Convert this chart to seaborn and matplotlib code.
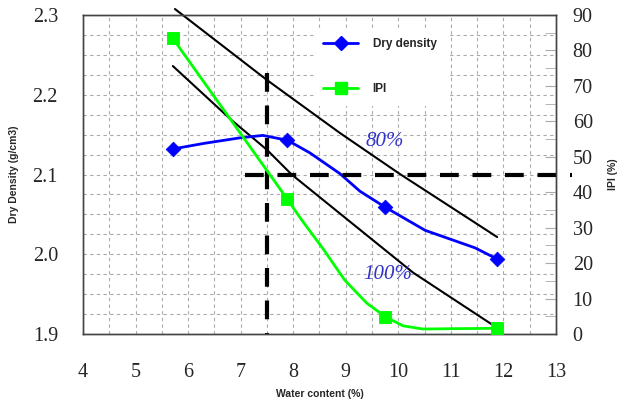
import matplotlib
matplotlib.use('Agg')
import matplotlib.pyplot as plt
import seaborn as sns
from matplotlib.lines import Line2D
from matplotlib.ticker import MultipleLocator, FormatStrFormatter

# measured points
water = [5.71, 7.89, 9.75, 11.88]
dry_density = [2.132, 2.143, 2.059, 1.994]
ipi = [83.6, 38.2, 4.9, 1.6]

# smoothed curves as drawn through the points
dd_curve_w = [5.71, 6.30, 6.99, 7.42, 7.89, 8.32, 8.89, 9.27, 9.75, 10.51, 11.46, 11.88]
dd_curve = [2.132, 2.139, 2.146, 2.149, 2.143, 2.127, 2.101, 2.079, 2.059, 2.030, 2.008, 1.994]
ipi_curve_w = [5.70, 7.88, 8.16, 8.57, 8.98, 9.40, 9.75, 10.09, 10.47, 11.05, 11.87]
ipi_curve = [83.6, 38.2, 32.2, 24.0, 15.2, 8.7, 4.9, 2.3, 1.4, 1.5, 1.6]

# saturation lines
sat80_w = [5.75, 7.50, 8.89, 10.03, 11.88]
sat80 = [2.3075, 2.2185, 2.152, 2.1006, 2.0216]
sat100_w = [5.71, 6.83, 7.50, 7.97, 9.04, 10.28, 11.78]
sat100 = [2.236, 2.168, 2.131, 2.100, 2.043, 1.977, 1.912]

# reading lines
w_opt = 7.5
ipi_read = 45

sns.set_style('white')
serif = 'Liberation Serif'
sans = 'Liberation Sans'

fig = plt.figure(figsize=(6.22, 4), dpi=100)
ax = fig.add_axes([0.1334, 0.165, 0.7605, 0.7975])
ax2 = ax.twinx()

blue = '#0000ff'
green = '#00ff00'

ax.set_xlim(4, 13)
ax.set_ylim(1.9, 2.3)
ax2.set_ylim(0, 90)

ax.xaxis.set_major_locator(MultipleLocator(1))
ax.xaxis.set_minor_locator(MultipleLocator(0.5))
ax.yaxis.set_major_locator(MultipleLocator(0.1))
ax.yaxis.set_minor_locator(MultipleLocator(0.025))
ax.yaxis.set_major_formatter(FormatStrFormatter('%.1f'))
ax2.yaxis.set_major_locator(MultipleLocator(10))
ax2.yaxis.set_minor_locator(MultipleLocator(5))

ax.grid(True, which='both', color='#aaaaaa', linestyle=(0, (3, 3)), linewidth=0.8)
ax.set_axisbelow(True)

# saturation lines
sns.lineplot(x=sat80_w, y=sat80, ax=ax, color='black', lw=1.5, sort=False,
             estimator=None, clip_on=False)
sns.lineplot(x=sat100_w, y=sat100, ax=ax, color='black', lw=1.5, sort=False,
             estimator=None)

# dry density
sns.lineplot(x=dd_curve_w, y=dd_curve, ax=ax, color=blue, lw=2, sort=False, estimator=None)
sns.scatterplot(x=water, y=dry_density, ax=ax, color=blue, marker='D', s=55,
                edgecolor=blue, zorder=5)

# vertical reading line
ax.plot([w_opt, w_opt], [2.227, 1.9], color='black', lw=3, dashes=(4.5, 3.3))

# IPI
sns.lineplot(x=ipi_curve_w, y=ipi_curve, ax=ax2, color=green, lw=2, sort=False, estimator=None)
sns.scatterplot(x=water, y=ipi, ax=ax2, color=green, marker='s', s=65,
                edgecolor=green, zorder=5, clip_on=False)
ax2.plot([7.08, 13.3], [ipi_read, ipi_read], color='black', lw=3, dashes=(4.5, 3.3),
         clip_on=False)

ax.text(9.75, 2.142, '80%', color='#3333cc', fontsize=15, fontstyle='italic',
        family=serif, ha='center', va='center')
ax.text(9.79, 1.974, '100%', color='#3333cc', fontsize=15, fontstyle='italic',
        family=serif, ha='center', va='center')

for a in (ax, ax2):
    for lab in a.get_xticklabels() + a.get_yticklabels():
        lab.set_family(serif)
        lab.set_fontsize(14.5)
    for s in a.spines.values():
        s.set_color('#444444')
        s.set_linewidth(1)

ax.tick_params(axis='x', which='both', direction='in', length=5, color='#444444', pad=21)
ax.tick_params(axis='y', which='both', direction='in', length=0, pad=18)
ax2.tick_params(axis='y', which='major', direction='in', length=8, color='#aaaaaa', pad=12)
ax2.tick_params(axis='y', which='minor', direction='in', length=8, color='#aaaaaa')

ax.set_xlabel('Water content (%)', family=sans, fontweight='bold', fontsize=7.5, labelpad=5)
ax.set_ylabel('Dry Density (g/cm3)', family=sans, fontweight='bold', fontsize=7.5, labelpad=10)
ax2.set_ylabel('IPI (%)', family=sans, fontweight='bold', fontsize=7.5, labelpad=11)

handles = [
    Line2D([0], [0], color=blue, lw=2, marker='D', markersize=7),
    Line2D([0], [0], color=green, lw=2, marker='s', markersize=8),
]
leg = ax2.legend(handles, ['Dry density', 'IPI'], loc='upper left',
                 bbox_to_anchor=(0.475, 0.975), frameon=True, framealpha=1,
                 borderpad=0.8, handlelength=3.0, handletextpad=1.2, labelspacing=2.8,
                 prop={'family': sans, 'weight': 'bold', 'size': 8.5})
leg.get_frame().set_edgecolor('white')
leg.get_frame().set_facecolor('white')
leg.get_frame().set_boxstyle('square', pad=0)

fig.savefig('out.png', dpi=100)
